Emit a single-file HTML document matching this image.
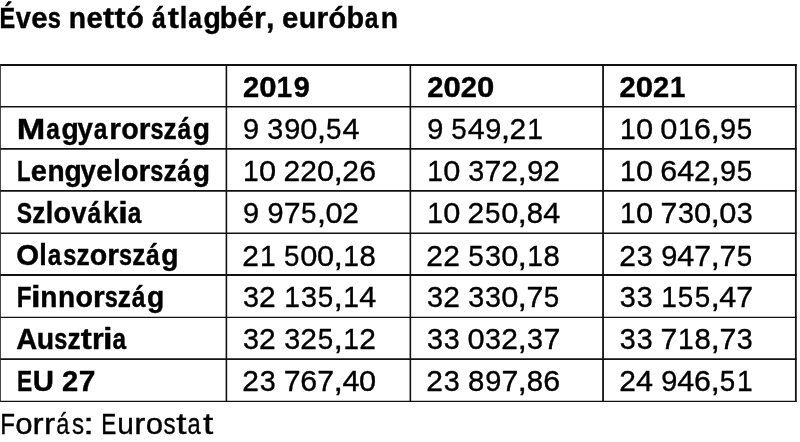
<!DOCTYPE html>
<html lang="hu"><head><meta charset="utf-8"><title>Éves nettó átlagbér, euróban</title>
<style>
html,body{margin:0;padding:0;background:#fff;}
body{width:800px;height:442px;position:relative;overflow:hidden;font-family:"Liberation Sans",Arial,sans-serif;color:#000;}
#grid{position:absolute;left:0;top:0;}
table,thead,tbody,tr,th,td{display:contents;}
h1,p{margin:0;}
td .t{font-weight:normal;}
.t{position:absolute;left:0;width:800px;white-space:pre;line-height:34px;height:34px;-webkit-text-stroke:0.35px #000;}
.b{font-weight:bold;-webkit-text-stroke:0.4px #000;}
.t span{position:absolute;top:0;transform-origin:0 0;white-space:pre;}
</style></head><body>
<svg id="grid" width="800" height="442" viewBox="0 0 800 442">
<g stroke="#121212" fill="none">
<line x1="0" y1="65" x2="796.75" y2="65" stroke-width="2.0"/>
<line x1="0" y1="106.8" x2="796.75" y2="106.8" stroke-width="1.5"/>
<line x1="0" y1="148.9" x2="796.75" y2="148.9" stroke-width="1.6"/>
<line x1="0" y1="190.9" x2="796.75" y2="190.9" stroke-width="1.8"/>
<line x1="0" y1="233.2" x2="796.75" y2="233.2" stroke-width="1.6"/>
<line x1="0" y1="275" x2="796.75" y2="275" stroke-width="1.8"/>
<line x1="0" y1="317.4" x2="796.75" y2="317.4" stroke-width="1.4"/>
<line x1="0" y1="359.1" x2="796.75" y2="359.1" stroke-width="1.6"/>
<line x1="0" y1="401.4" x2="796.75" y2="401.4" stroke-width="1.2"/>
<line x1="0.45" y1="64.0" x2="0.45" y2="402.00" stroke-width="0.9" stroke="#262626"/>
<line x1="226.4" y1="64.0" x2="226.4" y2="402.00" stroke-width="1.6"/>
<line x1="410.35" y1="64.0" x2="410.35" y2="402.00" stroke-width="1.6"/>
<line x1="603.05" y1="64.0" x2="603.05" y2="402.00" stroke-width="1.8"/>
<line x1="795.85" y1="64.0" x2="795.85" y2="402.00" stroke-width="1.8"/>
</g></svg>
<h1 class="t b" id="title" style="top:1.05px;font-size:28.7px"><span style="left:-1px;transform:translateX(0.56px) scaleX(0.819)">É</span><span style="left:15px;transform:translateX(0.65px) scaleX(0.945)">v</span><span style="left:31px;transform:translateX(0.18px) scaleX(1.022)">e</span><span style="left:47px;transform:translateX(0.72px) scaleX(0.823)">s</span> <span style="left:68px;transform:translateX(0.82px) scaleX(0.985)">n</span><span style="left:86px;transform:translateX(0.46px) scaleX(1.022)">e</span><span style="left:103px;transform:translateX(0.06px) scaleX(1.161)">t</span><span style="left:114px;transform:translateX(0.57px) scaleX(1.161)">t</span><span style="left:126px;transform:translateX(0.21px) scaleX(1.002)">ó</span> <span style="left:152px;transform:translateX(0.08px) scaleX(0.864)">á</span><span style="left:167px;transform:translateX(0.82px) scaleX(1.161)">t</span><span style="left:179px;transform:translateX(0.68px) scaleX(0.946)">l</span><span style="left:188px;transform:translateX(0.14px) scaleX(0.856)">a</span><span style="left:203px;transform:translateX(0.54px) scaleX(0.992)">g</span><span style="left:219px;transform:translateX(0.87px) scaleX(1.003)">b</span><span style="left:237px;transform:translateX(0.54px) scaleX(1.022)">é</span><span style="left:253px;transform:translateX(0.99px) scaleX(1.053)">r</span><span style="left:265px;transform:translateX(0.95px) scaleX(1.058)">,</span> <span style="left:282px;transform:translateX(0.12px) scaleX(1.022)">e</span><span style="left:298px;transform:translateX(0.80px) scaleX(0.997)">u</span><span style="left:316px;transform:translateX(0.38px) scaleX(1.053)">r</span><span style="left:328px;transform:translateX(0.47px) scaleX(1.002)">ó</span><span style="left:346px;transform:translateX(0.45px) scaleX(1.003)">b</span><span style="left:364px;transform:translateX(0.66px) scaleX(0.856)">a</span><span style="left:380px;transform:translateX(0.68px) scaleX(0.985)">n</span></h1>
<table>
<thead>
<tr>
<th></th>
<th scope="col"><div class="t b" id="h0" style="top:69.60px;font-size:28.7px"><span style="left:243px;transform:translateX(0.02px) scaleX(1.015)">2</span><span style="left:259px;transform:translateX(0.21px) scaleX(1.083)">0</span><span style="left:276px;transform:translateX(0.83px) scaleX(0.962)">1</span><span style="left:293px;transform:translateX(0.86px) scaleX(1.004)">9</span></div></th>
<th scope="col"><div class="t b" id="h1" style="top:69.60px;font-size:28.7px"><span style="left:427px;transform:translateX(0.27px) scaleX(1.015)">2</span><span style="left:443px;transform:translateX(0.46px) scaleX(1.083)">0</span><span style="left:460px;transform:translateX(0.72px) scaleX(1.015)">2</span><span style="left:476px;transform:translateX(0.92px) scaleX(1.083)">0</span></div></th>
<th scope="col"><div class="t b" id="h2" style="top:69.60px;font-size:28.7px"><span style="left:619px;transform:translateX(0.57px) scaleX(1.015)">2</span><span style="left:635px;transform:translateX(0.76px) scaleX(1.083)">0</span><span style="left:653px;transform:translateX(0.02px) scaleX(1.015)">2</span><span style="left:670px;transform:translateX(0.11px) scaleX(0.962)">1</span></div></th>
</tr>
</thead>
<tbody>
<tr>
<th scope="row"><div class="t b" id="l0" style="top:111.60px;font-size:28.7px"><span style="left:16px;transform:translateX(0.76px) scaleX(1.192)">M</span><span style="left:46px;transform:translateX(0.16px) scaleX(0.851)">a</span><span style="left:61px;transform:translateX(0.46px) scaleX(0.986)">g</span><span style="left:77px;transform:translateX(0.43px) scaleX(0.958)">y</span><span style="left:93px;transform:translateX(0.72px) scaleX(0.851)">a</span><span style="left:109px;transform:translateX(0.21px) scaleX(1.047)">r</span><span style="left:121px;transform:translateX(0.22px) scaleX(0.996)">o</span><span style="left:138px;transform:translateX(0.68px) scaleX(1.047)">r</span><span style="left:150px;transform:translateX(0.50px) scaleX(0.818)">s</span><span style="left:163px;transform:translateX(0.62px) scaleX(0.917)">z</span><span style="left:177px;transform:translateX(0.49px) scaleX(0.859)">á</span><span style="left:192px;transform:translateX(0.80px) scaleX(0.986)">g</span></div></th>
<td><div class="t" id="n00" style="top:111.60px;font-size:29.3px"><span style="left:243px;transform:translateX(0.12px) scaleX(0.987)">9</span> <span style="left:267px;transform:translateX(0.28px) scaleX(0.980)">3</span><span style="left:284px;transform:translateX(0.34px) scaleX(0.987)">9</span><span style="left:300px;transform:translateX(0.26px) scaleX(1.050)">0</span><span style="left:316px;transform:translateX(0.64px) scaleX(1.164)">,</span><span style="left:326px;transform:translateX(0.03px) scaleX(0.944)">5</span><span style="left:342px;transform:translateX(0.39px) scaleX(1.044)">4</span></div></td>
<td><div class="t" id="n01" style="top:111.60px;font-size:29.3px"><span style="left:427px;transform:translateX(0.22px) scaleX(0.987)">9</span> <span style="left:451px;transform:translateX(0.27px) scaleX(0.944)">5</span><span style="left:467px;transform:translateX(0.64px) scaleX(1.044)">4</span><span style="left:485px;transform:translateX(0.29px) scaleX(0.987)">9</span><span style="left:500px;transform:translateX(0.74px) scaleX(1.164)">,</span><span style="left:509px;transform:translateX(0.58px) scaleX(1.022)">2</span><span style="left:527px;transform:translateX(0.30px) scaleX(0.965)">1</span></div></td>
<td><div class="t" id="n02" style="top:111.60px;font-size:29.3px"><span style="left:620px;transform:translateX(0.02px) scaleX(0.965)">1</span><span style="left:635px;transform:translateX(0.94px) scaleX(1.050)">0</span> <span style="left:660px;transform:translateX(0.31px) scaleX(1.050)">0</span><span style="left:678px;transform:translateX(0.10px) scaleX(0.965)">1</span><span style="left:694px;transform:translateX(0.07px) scaleX(1.035)">6</span><span style="left:710px;transform:translateX(0.39px) scaleX(1.164)">,</span><span style="left:720px;transform:translateX(0.09px) scaleX(0.987)">9</span><span style="left:736px;transform:translateX(0.63px) scaleX(0.944)">5</span></div></td>
</tr>
<tr>
<th scope="row"><div class="t b" id="l1" style="top:153.60px;font-size:28.7px"><span style="left:16px;transform:translateX(0.96px) scaleX(0.775)">L</span><span style="left:30px;transform:translateX(0.73px) scaleX(1.015)">e</span><span style="left:47px;transform:translateX(0.52px) scaleX(0.979)">n</span><span style="left:64px;transform:translateX(0.60px) scaleX(0.986)">g</span><span style="left:80px;transform:translateX(0.58px) scaleX(0.958)">y</span><span style="left:96px;transform:translateX(0.32px) scaleX(1.015)">e</span><span style="left:113px;transform:translateX(0.18px) scaleX(0.940)">l</span><span style="left:121px;transform:translateX(0.06px) scaleX(0.996)">o</span><span style="left:138px;transform:translateX(0.52px) scaleX(1.047)">r</span><span style="left:150px;transform:translateX(0.34px) scaleX(0.818)">s</span><span style="left:163px;transform:translateX(0.46px) scaleX(0.917)">z</span><span style="left:177px;transform:translateX(0.33px) scaleX(0.859)">á</span><span style="left:192px;transform:translateX(0.64px) scaleX(0.986)">g</span></div></th>
<td><div class="t" id="n10" style="top:153.60px;font-size:29.3px"><span style="left:243px;transform:translateX(0.12px) scaleX(0.965)">1</span><span style="left:259px;transform:translateX(0.04px) scaleX(1.050)">0</span> <span style="left:283px;transform:translateX(0.48px) scaleX(1.022)">2</span><span style="left:300px;transform:translateX(0.34px) scaleX(1.022)">2</span><span style="left:317px;transform:translateX(0.11px) scaleX(1.050)">0</span><span style="left:333px;transform:translateX(0.49px) scaleX(1.164)">,</span><span style="left:342px;transform:translateX(0.34px) scaleX(1.022)">2</span><span style="left:359px;transform:translateX(0.17px) scaleX(1.035)">6</span></div></td>
<td><div class="t" id="n11" style="top:153.60px;font-size:29.3px"><span style="left:427px;transform:translateX(0.22px) scaleX(0.965)">1</span><span style="left:443px;transform:translateX(0.14px) scaleX(1.050)">0</span> <span style="left:468px;transform:translateX(0.23px) scaleX(0.980)">3</span><span style="left:484px;transform:translateX(0.59px) scaleX(1.034)">7</span><span style="left:501px;transform:translateX(0.29px) scaleX(1.022)">2</span><span style="left:517px;transform:translateX(0.59px) scaleX(1.164)">,</span><span style="left:527px;transform:translateX(0.29px) scaleX(0.987)">9</span><span style="left:543px;transform:translateX(0.29px) scaleX(1.022)">2</span></div></td>
<td><div class="t" id="n12" style="top:153.60px;font-size:29.3px"><span style="left:620px;transform:translateX(0.02px) scaleX(0.965)">1</span><span style="left:635px;transform:translateX(0.94px) scaleX(1.050)">0</span> <span style="left:660px;transform:translateX(0.37px) scaleX(1.035)">6</span><span style="left:677px;transform:translateX(0.29px) scaleX(1.044)">4</span><span style="left:694px;transform:translateX(0.09px) scaleX(1.022)">2</span><span style="left:710px;transform:translateX(0.39px) scaleX(1.164)">,</span><span style="left:720px;transform:translateX(0.09px) scaleX(0.987)">9</span><span style="left:736px;transform:translateX(0.63px) scaleX(0.944)">5</span></div></td>
</tr>
<tr>
<th scope="row"><div class="t b" id="l2" style="top:195.60px;font-size:28.7px"><span style="left:16px;transform:translateX(0.68px) scaleX(0.799)">S</span><span style="left:32px;transform:translateX(0.15px) scaleX(0.917)">z</span><span style="left:45px;transform:translateX(0.73px) scaleX(0.940)">l</span><span style="left:53px;transform:translateX(0.61px) scaleX(0.996)">o</span><span style="left:71px;transform:translateX(0.51px) scaleX(0.940)">v</span><span style="left:87px;transform:translateX(0.48px) scaleX(0.859)">á</span><span style="left:103px;transform:translateX(0.11px) scaleX(0.960)">k</span><span style="left:118px;transform:translateX(0.24px) scaleX(1.194)">i</span><span style="left:127px;transform:translateX(0.72px) scaleX(0.851)">a</span></div></th>
<td><div class="t" id="n20" style="top:195.60px;font-size:29.3px"><span style="left:243px;transform:translateX(0.12px) scaleX(0.987)">9</span> <span style="left:267px;transform:translateX(0.49px) scaleX(0.987)">9</span><span style="left:283px;transform:translateX(0.63px) scaleX(1.034)">7</span><span style="left:300px;transform:translateX(0.88px) scaleX(0.944)">5</span><span style="left:316px;transform:translateX(0.64px) scaleX(1.164)">,</span><span style="left:325px;transform:translateX(0.41px) scaleX(1.050)">0</span><span style="left:342px;transform:translateX(0.34px) scaleX(1.022)">2</span></div></td>
<td><div class="t" id="n21" style="top:195.60px;font-size:29.3px"><span style="left:427px;transform:translateX(0.22px) scaleX(0.965)">1</span><span style="left:443px;transform:translateX(0.14px) scaleX(1.050)">0</span> <span style="left:467px;transform:translateX(0.58px) scaleX(1.022)">2</span><span style="left:484px;transform:translateX(0.98px) scaleX(0.944)">5</span><span style="left:501px;transform:translateX(0.21px) scaleX(1.050)">0</span><span style="left:517px;transform:translateX(0.59px) scaleX(1.164)">,</span><span style="left:526px;transform:translateX(0.76px) scaleX(1.002)">8</span><span style="left:543px;transform:translateX(0.35px) scaleX(1.044)">4</span></div></td>
<td><div class="t" id="n22" style="top:195.60px;font-size:29.3px"><span style="left:620px;transform:translateX(0.02px) scaleX(0.965)">1</span><span style="left:635px;transform:translateX(0.94px) scaleX(1.050)">0</span> <span style="left:660px;transform:translateX(0.53px) scaleX(1.034)">7</span><span style="left:677px;transform:translateX(0.89px) scaleX(0.980)">3</span><span style="left:694px;transform:translateX(0.01px) scaleX(1.050)">0</span><span style="left:710px;transform:translateX(0.39px) scaleX(1.164)">,</span><span style="left:719px;transform:translateX(0.16px) scaleX(1.050)">0</span><span style="left:736px;transform:translateX(0.74px) scaleX(0.980)">3</span></div></td>
</tr>
<tr>
<th scope="row"><div class="t b" id="l3" style="top:237.60px;font-size:28.7px"><span style="left:16px;transform:translateX(0.29px) scaleX(1.023)">O</span><span style="left:39px;transform:translateX(0.33px) scaleX(0.940)">l</span><span style="left:47px;transform:translateX(0.74px) scaleX(0.851)">a</span><span style="left:63px;transform:translateX(0.31px) scaleX(0.818)">s</span><span style="left:76px;transform:translateX(0.43px) scaleX(0.917)">z</span><span style="left:89px;transform:translateX(0.78px) scaleX(0.996)">o</span><span style="left:107px;transform:translateX(0.24px) scaleX(1.047)">r</span><span style="left:119px;transform:translateX(0.07px) scaleX(0.818)">s</span><span style="left:132px;transform:translateX(0.18px) scaleX(0.917)">z</span><span style="left:146px;transform:translateX(0.06px) scaleX(0.859)">á</span><span style="left:161px;transform:translateX(0.36px) scaleX(0.986)">g</span></div></th>
<td><div class="t" id="n30" style="top:238.60px;font-size:29.3px"><span style="left:242px;transform:translateX(0.26px) scaleX(1.022)">2</span><span style="left:259px;transform:translateX(0.98px) scaleX(0.965)">1</span> <span style="left:284px;transform:translateX(0.03px) scaleX(0.944)">5</span><span style="left:300px;transform:translateX(0.26px) scaleX(1.050)">0</span><span style="left:317px;transform:translateX(0.11px) scaleX(1.050)">0</span><span style="left:333px;transform:translateX(0.49px) scaleX(1.164)">,</span><span style="left:343px;transform:translateX(0.20px) scaleX(0.965)">1</span><span style="left:359px;transform:translateX(0.51px) scaleX(1.002)">8</span></div></td>
<td><div class="t" id="n31" style="top:238.60px;font-size:29.3px"><span style="left:426px;transform:translateX(0.36px) scaleX(1.022)">2</span><span style="left:443px;transform:translateX(0.21px) scaleX(1.022)">2</span> <span style="left:468px;transform:translateX(0.13px) scaleX(0.944)">5</span><span style="left:485px;transform:translateX(0.09px) scaleX(0.980)">3</span><span style="left:501px;transform:translateX(0.21px) scaleX(1.050)">0</span><span style="left:517px;transform:translateX(0.59px) scaleX(1.164)">,</span><span style="left:527px;transform:translateX(0.30px) scaleX(0.965)">1</span><span style="left:543px;transform:translateX(0.61px) scaleX(1.002)">8</span></div></td>
<td><div class="t" id="n32" style="top:238.60px;font-size:29.3px"><span style="left:619px;transform:translateX(0.16px) scaleX(1.022)">2</span><span style="left:636px;transform:translateX(0.66px) scaleX(0.980)">3</span> <span style="left:661px;transform:translateX(0.24px) scaleX(0.987)">9</span><span style="left:677px;transform:translateX(0.29px) scaleX(1.044)">4</span><span style="left:694px;transform:translateX(0.24px) scaleX(1.034)">7</span><span style="left:710px;transform:translateX(0.39px) scaleX(1.164)">,</span><span style="left:719px;transform:translateX(0.39px) scaleX(1.034)">7</span><span style="left:736px;transform:translateX(0.63px) scaleX(0.944)">5</span></div></td>
</tr>
<tr>
<th scope="row"><div class="t b" id="l4" style="top:279.60px;font-size:28.7px"><span style="left:16px;transform:translateX(0.84px) scaleX(0.845)">F</span><span style="left:31px;transform:translateX(0.08px) scaleX(1.194)">i</span><span style="left:40px;transform:translateX(0.20px) scaleX(0.979)">n</span><span style="left:57px;transform:translateX(0.91px) scaleX(0.979)">n</span><span style="left:75px;transform:translateX(0.46px) scaleX(0.996)">o</span><span style="left:92px;transform:translateX(0.92px) scaleX(1.047)">r</span><span style="left:104px;transform:translateX(0.74px) scaleX(0.818)">s</span><span style="left:117px;transform:translateX(0.86px) scaleX(0.917)">z</span><span style="left:131px;transform:translateX(0.73px) scaleX(0.859)">á</span><span style="left:147px;transform:translateX(0.04px) scaleX(0.986)">g</span></div></th>
<td><div class="t" id="n40" style="top:279.60px;font-size:29.3px"><span style="left:242px;transform:translateX(0.91px) scaleX(0.980)">3</span><span style="left:259px;transform:translateX(0.11px) scaleX(1.022)">2</span> <span style="left:284px;transform:translateX(0.35px) scaleX(0.965)">1</span><span style="left:300px;transform:translateX(0.99px) scaleX(0.980)">3</span><span style="left:317px;transform:translateX(0.73px) scaleX(0.944)">5</span><span style="left:333px;transform:translateX(0.49px) scaleX(1.164)">,</span><span style="left:343px;transform:translateX(0.20px) scaleX(0.965)">1</span><span style="left:359px;transform:translateX(0.25px) scaleX(1.044)">4</span></div></td>
<td><div class="t" id="n41" style="top:279.60px;font-size:29.3px"><span style="left:427px;transform:translateX(0.01px) scaleX(0.980)">3</span><span style="left:443px;transform:translateX(0.21px) scaleX(1.022)">2</span> <span style="left:468px;transform:translateX(0.23px) scaleX(0.980)">3</span><span style="left:485px;transform:translateX(0.09px) scaleX(0.980)">3</span><span style="left:501px;transform:translateX(0.21px) scaleX(1.050)">0</span><span style="left:517px;transform:translateX(0.59px) scaleX(1.164)">,</span><span style="left:526px;transform:translateX(0.59px) scaleX(1.034)">7</span><span style="left:543px;transform:translateX(0.83px) scaleX(0.944)">5</span></div></td>
<td><div class="t" id="n42" style="top:279.60px;font-size:29.3px"><span style="left:619px;transform:translateX(0.81px) scaleX(0.980)">3</span><span style="left:636px;transform:translateX(0.66px) scaleX(0.980)">3</span> <span style="left:661px;transform:translateX(0.25px) scaleX(0.965)">1</span><span style="left:677px;transform:translateX(0.78px) scaleX(0.944)">5</span><span style="left:694px;transform:translateX(0.63px) scaleX(0.944)">5</span><span style="left:710px;transform:translateX(0.39px) scaleX(1.164)">,</span><span style="left:719px;transform:translateX(0.29px) scaleX(1.044)">4</span><span style="left:736px;transform:translateX(0.24px) scaleX(1.034)">7</span></div></td>
</tr>
<tr>
<th scope="row"><div class="t b" id="l5" style="top:321.60px;font-size:28.7px"><span style="left:16px;transform:translateX(0.22px) scaleX(1.011)">A</span><span style="left:36px;transform:translateX(0.74px) scaleX(0.991)">u</span><span style="left:54px;transform:translateX(0.31px) scaleX(0.818)">s</span><span style="left:67px;transform:translateX(0.43px) scaleX(0.917)">z</span><span style="left:80px;transform:translateX(0.65px) scaleX(1.154)">t</span><span style="left:91px;transform:translateX(0.93px) scaleX(1.047)">r</span><span style="left:103px;transform:translateX(0.09px) scaleX(1.194)">i</span><span style="left:112px;transform:translateX(0.58px) scaleX(0.851)">a</span></div></th>
<td><div class="t" id="n50" style="top:321.60px;font-size:29.3px"><span style="left:242px;transform:translateX(0.91px) scaleX(0.980)">3</span><span style="left:259px;transform:translateX(0.11px) scaleX(1.022)">2</span> <span style="left:284px;transform:translateX(0.13px) scaleX(0.980)">3</span><span style="left:300px;transform:translateX(0.34px) scaleX(1.022)">2</span><span style="left:317px;transform:translateX(0.73px) scaleX(0.944)">5</span><span style="left:333px;transform:translateX(0.49px) scaleX(1.164)">,</span><span style="left:343px;transform:translateX(0.20px) scaleX(0.965)">1</span><span style="left:359px;transform:translateX(0.19px) scaleX(1.022)">2</span></div></td>
<td><div class="t" id="n51" style="top:321.60px;font-size:29.3px"><span style="left:427px;transform:translateX(0.01px) scaleX(0.980)">3</span><span style="left:443px;transform:translateX(0.86px) scaleX(0.980)">3</span> <span style="left:467px;transform:translateX(0.51px) scaleX(1.050)">0</span><span style="left:485px;transform:translateX(0.09px) scaleX(0.980)">3</span><span style="left:501px;transform:translateX(0.29px) scaleX(1.022)">2</span><span style="left:517px;transform:translateX(0.59px) scaleX(1.164)">,</span><span style="left:527px;transform:translateX(0.09px) scaleX(0.980)">3</span><span style="left:543px;transform:translateX(0.44px) scaleX(1.034)">7</span></div></td>
<td><div class="t" id="n52" style="top:321.60px;font-size:29.3px"><span style="left:619px;transform:translateX(0.81px) scaleX(0.980)">3</span><span style="left:636px;transform:translateX(0.66px) scaleX(0.980)">3</span> <span style="left:660px;transform:translateX(0.53px) scaleX(1.034)">7</span><span style="left:678px;transform:translateX(0.10px) scaleX(0.965)">1</span><span style="left:694px;transform:translateX(0.41px) scaleX(1.002)">8</span><span style="left:710px;transform:translateX(0.39px) scaleX(1.164)">,</span><span style="left:719px;transform:translateX(0.39px) scaleX(1.034)">7</span><span style="left:736px;transform:translateX(0.74px) scaleX(0.980)">3</span></div></td>
</tr>
<tr>
<th scope="row"><div class="t b" id="l6" style="top:363.60px;font-size:28.7px"><span style="left:17px;transform:translateX(0.09px) scaleX(0.794)">E</span><span style="left:32px;transform:translateX(0.79px) scaleX(1.022)">U</span> <span style="left:62px;transform:translateX(0.02px) scaleX(1.015)">2</span><span style="left:78px;transform:translateX(0.75px) scaleX(1.046)">7</span></div></th>
<td><div class="t" id="n60" style="top:363.60px;font-size:29.3px"><span style="left:242px;transform:translateX(0.26px) scaleX(1.022)">2</span><span style="left:259px;transform:translateX(0.76px) scaleX(0.980)">3</span> <span style="left:283px;transform:translateX(0.63px) scaleX(1.034)">7</span><span style="left:300px;transform:translateX(0.32px) scaleX(1.035)">6</span><span style="left:317px;transform:translateX(0.34px) scaleX(1.034)">7</span><span style="left:333px;transform:translateX(0.49px) scaleX(1.164)">,</span><span style="left:342px;transform:translateX(0.39px) scaleX(1.044)">4</span><span style="left:359px;transform:translateX(0.11px) scaleX(1.050)">0</span></div></td>
<td><div class="t" id="n61" style="top:363.60px;font-size:29.3px"><span style="left:426px;transform:translateX(0.36px) scaleX(1.022)">2</span><span style="left:443px;transform:translateX(0.86px) scaleX(0.980)">3</span> <span style="left:467px;transform:translateX(0.90px) scaleX(1.002)">8</span><span style="left:485px;transform:translateX(0.29px) scaleX(0.987)">9</span><span style="left:501px;transform:translateX(0.44px) scaleX(1.034)">7</span><span style="left:517px;transform:translateX(0.59px) scaleX(1.164)">,</span><span style="left:526px;transform:translateX(0.76px) scaleX(1.002)">8</span><span style="left:543px;transform:translateX(0.27px) scaleX(1.035)">6</span></div></td>
<td><div class="t" id="n62" style="top:363.60px;font-size:29.3px"><span style="left:619px;transform:translateX(0.16px) scaleX(1.022)">2</span><span style="left:636px;transform:translateX(0.07px) scaleX(1.044)">4</span> <span style="left:661px;transform:translateX(0.24px) scaleX(0.987)">9</span><span style="left:677px;transform:translateX(0.29px) scaleX(1.044)">4</span><span style="left:694px;transform:translateX(0.07px) scaleX(1.035)">6</span><span style="left:710px;transform:translateX(0.39px) scaleX(1.164)">,</span><span style="left:719px;transform:translateX(0.78px) scaleX(0.944)">5</span><span style="left:736px;transform:translateX(0.95px) scaleX(0.965)">1</span></div></td>
</tr>
</tbody>
</table>
<p class="t" id="src" style="top:406.80px;font-size:28.9px"><span style="left:0px;transform:translateX(0.36px) scaleX(0.834)">F</span><span style="left:15px;transform:translateX(0.27px) scaleX(1.079)">o</span><span style="left:32px;transform:translateX(0.61px) scaleX(1.155)">r</span><span style="left:44px;transform:translateX(0.12px) scaleX(1.155)">r</span><span style="left:56px;transform:translateX(0.15px) scaleX(0.816)">á</span><span style="left:71px;transform:translateX(0.98px) scaleX(0.834)">s</span><span style="left:83px;transform:translateX(0.30px) scaleX(1.325)">:</span> <span style="left:101px;transform:translateX(0.32px) scaleX(0.780)">E</span><span style="left:117px;transform:translateX(0.17px) scaleX(1.034)">u</span><span style="left:134px;transform:translateX(0.17px) scaleX(1.155)">r</span><span style="left:145px;transform:translateX(0.76px) scaleX(1.079)">o</span><span style="left:163px;transform:translateX(0.62px) scaleX(0.834)">s</span><span style="left:176px;transform:translateX(0.17px) scaleX(1.281)">t</span><span style="left:187px;transform:translateX(0.59px) scaleX(0.816)">a</span><span style="left:203px;transform:translateX(0.05px) scaleX(1.281)">t</span></p>
</body></html>
